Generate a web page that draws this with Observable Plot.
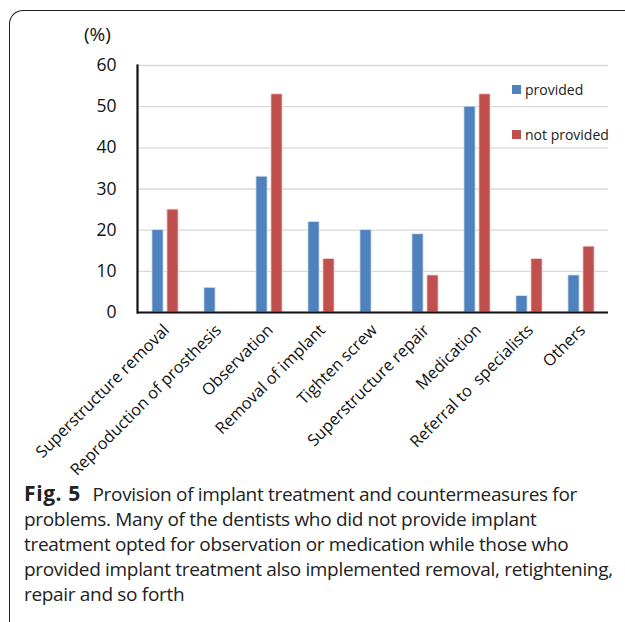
<!DOCTYPE html>
<html>
<head>
<meta charset="utf-8">
<script src="https://cdn.jsdelivr.net/npm/d3@7"></script>
<script src="https://cdn.jsdelivr.net/npm/@observablehq/plot@0.6"></script>
<style>
  html, body { margin: 0; padding: 0; background: #fff; }
  body { width: 625px; height: 622px; position: relative; overflow: hidden; font-family: "Open Sans", sans-serif; }
  #frame { position: absolute; left: 9px; top: 10px; width: 640px; height: 640px;
           border-left: 1.5px solid #222; border-top: 1.5px solid #222; border-top-left-radius: 14px; }
  #chart { position: absolute; left: 0; top: 0; }
  #unit { position: absolute; left: 84px; top: 21px; font-size: 19px; color: #111; }
  .leg { position: absolute; left: 512px; font-size: 14px; color: #222; display: flex; align-items: center; }
  .leg span.sw { display: inline-block; width: 9px; height: 9px; margin-right: 4px; }
  #caption { position: absolute; left: 24px; top: 481px; width: 600px; font-family: "Open Sans", sans-serif;
             font-size: 19px; line-height: 25px; color: #222; letter-spacing: -0.32px; white-space: nowrap; }
  #caption b { font-weight: 700; font-size: 21px; letter-spacing: 0.6px; margin-right: 7px; }
</style>
</head>
<body>
<div id="frame"></div>
<div id="chart"></div>
<div id="unit">(%)</div>
<div id="legend"></div>
<div id="caption"><b>Fig. 5</b> Provision of implant treatment and countermeasures for<br>problems. Many of the dentists who did not provide implant<br>treatment opted for observation or medication while those who<br>provided implant treatment also implemented removal, retightening,<br>repair and so forth</div>
<script>
const categories = ["Superstructure removal", "Reproduction of prosthesis", "Observation", "Removal of implant", "Tighten screw", "Superstructure repair", "Medication", "Referral to  specialists", "Others"];
const provided = [20, 6, 33, 22, 20, 19, 50, 4, 9];
const notProvided = [25, 0, 53, 13, 0, 9, 53, 13, 16];
const seriesNames = ["provided", "not provided"];
const seriesColors = ["#4F81BD", "#C0504D"];
const yTicks = [0, 10, 20, 30, 40, 50, 60];

const data = [];
categories.forEach((c, i) => {
  data.push({category: c, series: seriesNames[0], value: provided[i]});
  data.push({category: c, series: seriesNames[1], value: notProvided[i]});
});

const W = 625, H = 480;
const mL = 137, mR = 17, mT = 65, mB = 168;
const bandW = (W - mL - mR) / categories.length;
const barW = 11.5;
const inset = (bandW - barW) / 2;

const chart = Plot.plot({
  width: W, height: H,
  marginLeft: mL, marginRight: mR, marginTop: mT, marginBottom: mB,
  style: {fontFamily: "Open Sans, sans-serif", color: "#111", background: "transparent"},
  x: {domain: categories, padding: 0, label: null},
  y: {domain: [0, 60], label: null},
  color: {domain: seriesNames, range: seriesColors},
  marks: [
    Plot.gridY(yTicks, {stroke: "#d9d9d9", strokeOpacity: 1, strokeWidth: 1.3}),
    Plot.barY(data.filter(d => d.series === seriesNames[0] && d.value > 0), {
      x: "category", y: "value", fill: "series", insetLeft: inset, insetRight: inset, dx: -7.5,
      stroke: "#dce6f2", strokeWidth: 0.8
    }),
    Plot.barY(data.filter(d => d.series === seriesNames[1] && d.value > 0), {
      x: "category", y: "value", fill: "series", insetLeft: inset, insetRight: inset, dx: 7.5,
      stroke: "#f2dcdb", strokeWidth: 0.8
    }),
    Plot.axisY({ticks: yTicks, tickSize: 0, tickPadding: 21, fontSize: 17.5, label: null, fill: "#111"}),
    Plot.axisX({tickSize: 0, tickPadding: 15, tickRotate: -45, fontSize: 16.3, label: null, dx: 1, fill: "#111"}),
    Plot.frame({anchor: "left", stroke: "#111", strokeWidth: 2.2}),
    Plot.ruleY([0], {stroke: "#111", strokeWidth: 2.2})
  ]
});
document.getElementById("chart").appendChild(chart);

const legend = document.getElementById("legend");
const legTops = [80, 125];
seriesNames.forEach((s, i) => {
  const el = document.createElement("div");
  el.className = "leg";
  el.style.top = legTops[i] + "px";
  el.innerHTML = `<span class="sw" style="background:${seriesColors[i]}"></span>${s}`;
  legend.appendChild(el);
});
</script>
</body>
</html>
